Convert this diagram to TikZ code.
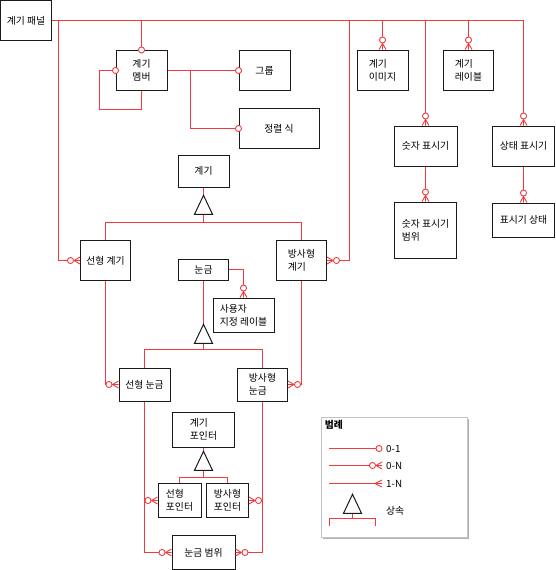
\documentclass[tikz,border=0pt]{standalone}
\usepackage{fontspec}
\setmainfont{Noto Sans CJK KR}
\usepackage{tikz}
\usetikzlibrary{
  arrows.meta,
  shapes.geometric,
  positioning,
  calc,
  shadows
}
\definecolor{erRel}{HTML}{EE3A40}
\definecolor{erBox}{HTML}{1A1A1A}
\definecolor{erLegend}{HTML}{C4C4C4}

% crow's foot tip (with its middle prong)
\pgfdeclarearrow{
  name = Crow,
  parameters = {\the\pgfarrowlength,\the\pgfarrowwidth},
  setup code = {
    \pgfarrowssettipend{0pt}
    \pgfarrowssetlineend{-\pgfarrowlength}
    \pgfarrowssetbackend{-\pgfarrowlength}
    \pgfarrowssavethe\pgfarrowlength
    \pgfarrowssavethe\pgfarrowwidth
  },
  drawing code = {
    \pgfpathmoveto{\pgfqpoint{0pt}{.5\pgfarrowwidth}}
    \pgfpathlineto{\pgfqpoint{-\pgfarrowlength}{0pt}}
    \pgfpathlineto{\pgfqpoint{0pt}{-.5\pgfarrowwidth}}
    \pgfpathmoveto{\pgfqpoint{-\pgfarrowlength}{0pt}}
    \pgfpathlineto{\pgfqpoint{0pt}{0pt}}
    \pgfusepathqstroke
  },
  defaults = {length=6pt, width=7pt}
}

\tikzset{
  ent/.style={
    draw=erBox, line width=1pt, fill=white, align=left, inner sep=1pt,
    font=\fontsize{9.8}{13}\selectfont
  },
  rel/.style={draw=erRel, line width=0.9pt},
  zeroone/.style={rel, -{Circle[fill=white, line width=0.9pt, length=7pt, width=7pt]}, shorten >=-3.5pt},
  zeromany/.style={rel, -{Circle[fill=white, line width=0.9pt, length=7pt, width=7pt] Crow[length=6pt, width=7pt, line width=0.9pt]}},
  onemany/.style={rel, -{Crow[length=7pt, width=7pt, line width=0.9pt]}},
  isa/.style={
    draw=erBox, line width=1pt, fill=white, isosceles triangle,
    isosceles triangle stretches, shape border rotate=90,
    minimum width=18pt, minimum height=19pt, inner sep=0pt
  },
  legendbox/.style={
    draw=erLegend, line width=0.8pt, fill=white,
    drop shadow={shadow xshift=2pt, shadow yshift=-2pt, fill=black!30, opacity=1}
  },
  legtitle/.style={font=\fontsize{9.8}{11}\selectfont\bfseries, inner sep=1pt},
  tag/.style={font=\fontsize{9.8}{11}\selectfont, anchor=west, inner sep=1pt}
}

\begin{document}
\begin{tikzpicture}[x=1pt, y=-1pt]
  \useasboundingbox (0,0) rectangle (556,570);

  % entities
  \node[ent, minimum width=51pt, minimum height=40pt] (panel) at (26,20.5) {계기 패널};
  \node[ent, minimum width=51pt, minimum height=40pt] (member) at (141.5,70.5) {계기\\멤버};
  \node[ent, minimum width=51pt, minimum height=40pt] (group) at (264.5,70.5) {그룹};
  \node[ent, minimum width=80pt, minimum height=40pt] (sortexpr) at (279,128.5) {정렬 식};
  \node[ent, minimum width=51pt, minimum height=40pt] (image) at (382.5,70) {계기\\이미지};
  \node[ent, minimum width=50pt, minimum height=40pt] (label) at (468.5,70) {계기\\레이블};
  \node[ent, minimum width=63pt, minimum height=40pt] (numind) at (425.5,146) {숫자 표시기};
  \node[ent, minimum width=62pt, minimum height=56pt] (numrange) at (425.5,230) {숫자 표시기\\범위};
  \node[ent, minimum width=62pt, minimum height=40pt] (stateind) at (523.5,146) {상태 표시기};
  \node[ent, minimum width=62pt, minimum height=34pt] (indstate) at (523.5,220) {표시기 상태};
  \node[ent, minimum width=51pt, minimum height=32pt] (gauge) at (203.5,171) {계기};
  \node[ent, minimum width=50pt, minimum height=40pt] (lingauge) at (105.5,260.5) {선형 계기};
  \node[ent, minimum width=50pt, minimum height=40pt] (radgauge) at (301.5,260.5) {방사형\\계기};
  \node[ent, minimum width=50pt, minimum height=21pt] (scale) at (203.5,269.5) {눈금};
  \node[ent, minimum width=61pt, minimum height=34pt] (custlabel) at (243.5,315) {사용자\\지정 레이블};
  \node[ent, minimum width=51pt, minimum height=33pt] (linscale) at (144.5,384.5) {선형 눈금};
  \node[ent, minimum width=50pt, minimum height=33pt] (radscale) at (262.5,384.5) {방사형\\눈금};
  \node[ent, minimum width=62pt, minimum height=35pt] (pointer) at (203.5,429.5) {계기\\포인터};
  \node[ent, minimum width=43pt, minimum height=34pt] (linptr) at (179.5,500.5) {선형\\포인터};
  \node[ent, minimum width=42pt, minimum height=34pt] (radptr) at (227.5,500.5) {방사형\\포인터};
  \node[ent, minimum width=63pt, minimum height=34pt] (scalerange) at (203.5,552.5) {눈금 범위};

  % relations from the panel
  \draw[zeroone] (panel.east) -| (member.north);
  \draw[zeromany] (panel.east) -| (image.north);
  \draw[zeromany] (panel.east) -| (label.north);
  \draw[zeromany] (panel.east) -| (numind.north);
  \draw[zeromany] (panel.east) -| (stateind.north);
  \draw[zeromany] (panel.east) -| ([xshift=-22pt]lingauge.west) -- (lingauge.west);
  \draw[zeromany] (panel.east) -| ([xshift=22pt]radgauge.east) -- (radgauge.east);

  \draw[zeroone] (member.south) -- ++(0,18) -| ([xshift=-16.5pt]member.west) -- (member.west);
  \draw[zeroone] (member.east) -- (group.west);
  \draw[zeroone] (member.east) -- ++(22.5,0) |- (sortexpr.west);
  \draw[zeromany] (numind.south) -- (numrange.north);
  \draw[zeromany] (stateind.south) -- (indstate.north);

  % gauge hierarchy
  \coordinate (gaugeJoin) at (203.5,222.5);
  \draw[rel] (gauge.south) -- (gaugeJoin);
  \draw[rel] (lingauge.north) |- (gaugeJoin) -| (radgauge.north);
  \node[isa, anchor=apex] (isaGauge) at (203.5,194) {};

  \coordinate (scaleJoin) at (203.5,349.5);
  \draw[rel] (scale.south) -- (scaleJoin);
  \draw[rel] (linscale.north) |- (scaleJoin) -| (radscale.north);
  \node[isa, anchor=apex] (isaScale) at (203.5,323) {};
  \draw[zeromany] (scale.east) -| (custlabel.north);
  \draw[zeromany] (lingauge.south) |- (linscale.west);
  \draw[zeromany] (radgauge.south) |- (radscale.east);

  \coordinate (pointerJoin) at (203.5,477.5);
  \draw[rel] (pointer.south) -- (pointerJoin);
  \draw[rel] (linptr.north) |- (pointerJoin) -| (radptr.north);
  \node[isa, anchor=apex] (isaPointer) at (203.5,450) {};
  \draw[zeromany] (linscale.south) |- (linptr.west);
  \draw[zeromany] (linscale.south) |- (scalerange.west);
  \draw[zeromany] (radscale.south) |- (radptr.east);
  \draw[zeromany] (radscale.south) |- (scalerange.east);

  % legend
  \node[legendbox, minimum width=146pt, minimum height=120pt] (legend) at (394,477) {};
  \node[legtitle, anchor=north west] (legendTitle) at ([xshift=3pt, yshift=-2pt]legend.north west) {범례};
  \coordinate (zoA) at (329,448.5);
  \coordinate (zoB) at (379,448.5);
  \draw[zeroone] (zoA) -- (zoB);
  \node[tag] (zoTxt) at (385,448.5) {0-1};
  \coordinate (zmA) at (329,465.5);
  \coordinate (zmB) at (382,465.5);
  \draw[zeromany] (zmA) -- (zmB);
  \node[tag] (zmTxt) at (385,465.5) {0-N};
  \coordinate (omA) at (329,483.5);
  \coordinate (omB) at (382,483.5);
  \draw[onemany] (omA) -- (omB);
  \node[tag] (omTxt) at (385,483.5) {1-N};
  \coordinate (isaJoin) at (352.5,518.5);
  \draw[rel] (isaJoin) ++(-23,7) -- ++(0,-7) -- ++(46,0) -- ++(0,7);
  \draw[rel] (isaJoin) -- ++(0,-20);
  \node[isa, anchor=apex] (isaLegend) at (352.5,493) {};
  \node[tag] (isaTxt) at (385,511) {상속};
\end{tikzpicture}
\end{document}
